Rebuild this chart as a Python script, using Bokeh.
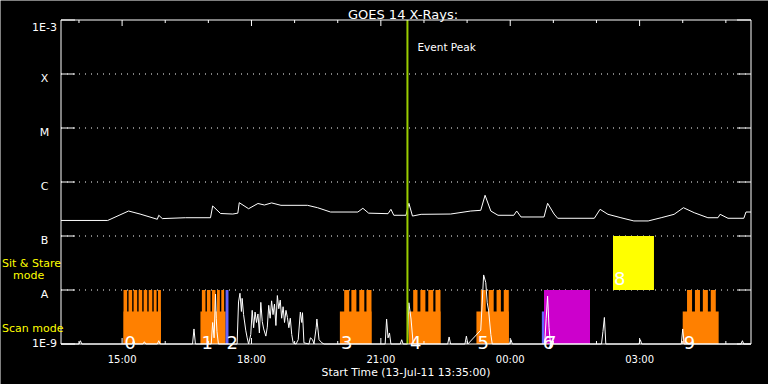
import math
from bokeh.plotting import figure
from bokeh.models import Range1d, ColumnDataSource
from bokeh.core.properties import value
from bokeh.embed import file_html
from bokeh.resources import INLINE

# ---------------- data ----------------
start_time = "13:35"
end_time = "05:35"
event_peak = "21:37"
title_text = "GOES 14 X-Rays:"
xlabel_text = "Start Time (13-Jul-11 13:35:00)"

major_ticks = ["15:00", "18:00", "21:00", "00:00", "03:00"]
minor_ticks = ["14:00", "16:00", "17:00", "19:00", "20:00", "22:00", "23:00",
               "01:00", "02:00", "04:00", "05:00"]

flux_ticks = [1e-9, 1e-8, 1e-7, 1e-6, 1e-5, 1e-4, 1e-3]
flux_labels = ["1E-9", "A", "B", "C", "M", "X", "1E-3"]
grid_flux = [1e-8, 1e-7, 1e-6, 1e-5, 1e-4]

mode_text = ["Sit & Stare", "mode", "Scan mode"]
mode_flux = [3.1e-8, 1.86e-8, 1.91e-9]

# GOES long channel (1-8 A)
long_t = ["13:35", "14:40", "15:09", "15:25", "15:49", "15:51", "15:56", "16:28", "17:03",
          "17:06", "17:17", "17:34", "17:41", "17:43", "17:56", "18:09", "18:18", "18:28",
          "18:41", "19:18", "19:32", "19:50", "20:28", "20:35", "20:43", "21:10", "21:14",
          "21:18", "21:35", "21:39", "21:44", "21:56", "22:37", "23:05", "23:19", "23:25",
          "23:33", "23:43", "00:05", "00:09", "00:15", "00:47", "00:52", "01:01", "01:06",
          "01:57", "02:05", "02:16", "02:34", "02:52", "03:12", "03:30", "03:48", "04:01",
          "04:16", "04:35", "04:49", "04:52", "05:03", "05:25", "05:28", "05:35"]
long_f = [1.94e-7, 1.94e-7, 2.9e-7, 2.55e-7, 2.04e-7, 2.42e-7, 2.1e-7, 2.18e-7, 2.18e-7,
          3.6e-7, 2.61e-7, 2.55e-7, 2.65e-7, 4.14e-7, 3.2e-7, 4.0e-7, 3.75e-7, 4.1e-7,
          3.7e-7, 3.7e-7, 3.34e-7, 2.78e-7, 2.78e-7, 3.26e-7, 2.65e-7, 2.59e-7, 3.12e-7,
          2.42e-7, 2.42e-7, 4.04e-7, 2.34e-7, 2.52e-7, 2.55e-7, 2.9e-7, 2.99e-7, 5.68e-7,
          2.9e-7, 2.42e-7, 2.42e-7, 2.9e-7, 2.25e-7, 2.25e-7, 4.04e-7, 2.55e-7, 2.13e-7,
          2.13e-7, 3.12e-7, 2.52e-7, 2.18e-7, 1.9e-7, 1.9e-7, 2.18e-7, 2.52e-7, 3.34e-7,
          2.7e-7, 2.18e-7, 2.18e-7, 2.52e-7, 2.13e-7, 2.13e-7, 2.78e-7, 2.78e-7]

# GOES short channel (0.5-4 A)
short_t = ["13:35", "14:00", "14:02", "14:04", "15:14", "15:16", "15:18", "15:29", "15:31",
           "15:33", "15:49", "15:51", "15:53", "16:38", "16:40", "16:42", "17:04", "17:06",
           "17:08", "17:10", "17:11", "17:12", "17:14",
           "17:40", "17:42", "17:44", "17:46", "17:47", "17:49", "17:52", "17:54", "17:56",
           "17:59", "18:01", "18:03", "18:05", "18:07", "18:09", "18:11", "18:13", "18:15",
           "18:17", "18:20", "18:22", "18:24", "18:26", "18:28", "18:30", "18:32", "18:34",
           "18:36", "18:38", "18:40", "18:42", "18:44", "18:46", "18:48", "18:50", "18:52",
           "18:54", "18:56", "18:58", "19:02", "19:05", "19:08", "19:10", "19:11", "19:13",
           "19:20", "19:22", "19:25", "19:27", "19:30", "19:31", "19:34", "19:38", "19:41",
           "21:06", "21:08", "21:10",
           "21:12", "21:14", "21:27", "21:29", "21:31", "21:37", "21:39", "21:42", "21:45",
           "22:33", "22:35", "22:37", "22:57", "22:59", "23:01", "23:19", "23:23", "23:26",
           "23:28", "23:30", "23:33", "23:35", "23:59", "00:01", "00:03", "00:48", "00:50",
           "00:52", "00:54", "00:56", "02:07", "02:09", "02:11", "02:13", "02:59", "03:01",
           "03:03", "03:58", "04:00", "04:02", "05:21", "05:23", "05:25", "05:35"]
short_f = [1e-9, 1e-9, 1.15e-9, 1e-9, 1e-9, 1.15e-9, 1e-9, 1e-9, 1.1e-9,
           1e-9, 1e-9, 1.15e-9, 1e-9, 1e-9, 1.9e-9, 1e-9, 1e-9, 2.5e-9,
           1.3e-9, 8.4e-9, 3e-9, 1.7e-9, 1e-9,
           1e-9, 6e-9, 8.7e-9, 4e-9, 7e-9, 3.5e-9, 1.8e-9, 1.3e-9, 1e-9,
           1.5e-9, 4.2e-9, 2e-9, 3.9e-9, 2.5e-9, 3.6e-9, 1.6e-9, 5.9e-9, 2.6e-9,
           1.9e-9, 1.4e-9, 2.05e-9, 5.2e-9, 3e-9, 6.3e-9, 3.5e-9, 5.5e-9, 2.2e-9,
           7.9e-9, 4.5e-9, 6.5e-9, 3e-9, 4.9e-9, 2.5e-9, 4.2e-9, 3.1e-9, 2e-9,
           3e-9, 1.5e-9, 1.05e-9, 1e-9, 1.2e-9, 3.9e-9, 2.5e-9, 3.8e-9, 1.05e-9,
           1e-9, 1.3e-9, 1.2e-9, 1e-9, 2e-9, 2.9e-9, 1.2e-9, 1.05e-9, 1e-9,
           1e-9, 2.9e-9, 1.3e-9,
           1.6e-9, 1e-9, 1e-9, 1.2e-9, 1e-9, 1e-9, 5.8e-9, 2.9e-9, 1e-9,
           1e-9, 1.35e-9, 1e-9, 1e-9, 1.4e-9, 1e-9, 1.8e-9, 1.9e-8, 1.37e-8,
           5.8e-9, 4.1e-9, 1.5e-9, 1e-9, 1e-9, 1.2e-9, 1e-9, 1e-9, 3e-9,
           7.7e-9, 2e-9, 1e-9, 1e-9, 1.7e-9, 3.1e-9, 1e-9, 1e-9, 1.2e-9,
           1e-9, 1e-9, 1.9e-9, 1e-9, 1e-9, 1.15e-9, 1e-9, 1e-9]

# observations
obs_id = ["0", "1", "2", "3", "4", "5", "6", "7", "8", "9"]
obs_start = ["15:02", "16:49", "17:24", "20:03", "21:39", "23:13", "00:44", "00:47", "02:23", "04:00"]
obs_end = ["15:54", "17:24", "17:28", "20:47", "22:23", "23:58", "00:47", "01:51", "03:20", "04:50"]
obs_low = [1e-9, 1e-9, 1e-9, 1e-9, 1e-9, 1e-9, 1e-9, 1e-9, 1e-8, 1e-9]
obs_high = [4e-9, 4e-9, 1e-8, 4e-9, 4e-9, 4e-9, 4e-9, 1e-8, 1e-7, 4e-9]
obs_color = ["#ff8000", "#ff8000", "#6464ff", "#ff8000", "#ff8000", "#ff8000",
             "#6464ff", "#cc00cc", "#ffff00", "#ff8000"]
obs_label_flux = [1.08e-9, 1.08e-9, 1.08e-9, 1.08e-9, 1.08e-9, 1.08e-9, 1.08e-9, 1.08e-9,
                  1.61e-8, 1.08e-9]

# individual rasters of the scan-mode observations
raster_start = ["15:02", "15:09", "15:16", "15:23", "15:30", "15:37", "15:44", "15:50",
                "16:51", "16:58", "17:05", "17:12", "17:18",
                "20:09", "20:19", "20:30", "20:40",
                "21:45", "21:55", "22:06", "22:16",
                "23:19", "23:30", "23:41", "23:51",
                "04:06", "04:17", "04:28", "04:39"]
raster_end = ["15:07", "15:14", "15:21", "15:28", "15:35", "15:42", "15:48", "15:54",
              "16:56", "17:03", "17:10", "17:16", "17:22",
              "20:16", "20:26", "20:37", "20:47",
              "21:51", "22:02", "22:13", "22:23",
              "23:26", "23:37", "23:47", "23:58",
              "04:13", "04:24", "04:35", "04:46"]
raster_low = 1e-9
raster_high = 1e-8


def hrs(s):
    h, m = map(int, s.split(":"))
    t = h + m / 60.0
    return t + 24 if h < 12 else t


FONT = "DejaVu Sans"
WHITE = "white"
W, H = 768, 384
# plot-box margins in pixels (left, right, top, bottom)
ML, MR, MT, MB = 60.5, 17.5, 19.5, 40.5

x0, x1 = hrs(start_time), hrs(end_time)
lg0, lg1 = math.log10(flux_ticks[0]), math.log10(flux_ticks[-1])
pph = (W - ML - MR) / (x1 - x0)
ppd = (H - MT - MB) / (lg1 - lg0)

p = figure(width=W, height=H, output_backend="svg", toolbar_location=None,
           x_range=Range1d(x0 - ML / pph, x1 + MR / pph),
           y_range=Range1d(10 ** (lg0 - MB / ppd), 10 ** (lg1 + MT / ppd)),
           y_axis_type="log", x_axis_location=None, y_axis_location=None,
           min_border=0, min_border_left=0, min_border_right=0,
           min_border_top=0, min_border_bottom=0)
p.background_fill_color = "black"
p.border_fill_color = "black"
p.outline_line_color = None
for g in p.grid:
    g.visible = False

# dotted class lines
p.segment(x0=[x0] * len(grid_flux), y0=grid_flux, x1=[x1] * len(grid_flux), y1=grid_flux,
          line_color=WHITE, line_width=1, line_dash="1 5")

# observation boxes
obs_src = ColumnDataSource(dict(
    left=[hrs(t) for t in obs_start], right=[hrs(t) for t in obs_end],
    bottom=obs_low, top=obs_high, color=obs_color, label=obs_id, ly=obs_label_flux))
ras_src = ColumnDataSource(dict(
    left=[hrs(t) for t in raster_start], right=[hrs(t) for t in raster_end],
    bottom=[raster_low] * len(raster_start), top=[raster_high] * len(raster_start)))
p.quad(left="left", right="right", bottom="bottom", top="top", source=ras_src,
       fill_color="#ff8000", line_color=None)
p.quad(left="left", right="right", bottom="bottom", top="top", source=obs_src,
       fill_color="color", line_color=None)

# flux curves
p.line([hrs(t) for t in long_t], long_f, line_color=WHITE, line_width=1)
p.line([hrs(t) for t in short_t], short_f, line_color=WHITE, line_width=1)

# observation numbers
p.text(x="left", y="ly", text="label", source=obs_src, text_color=WHITE,
       text_font=value(FONT), text_font_size="18px", text_align="left",
       text_baseline="alphabetic", x_offset=1)

# event peak line + text
ev = hrs(event_peak)
p.segment(x0=[ev], y0=[flux_ticks[0]], x1=[ev], y1=[flux_ticks[-1]],
          line_color="#9acd00", line_width=2)
p.text(x=[ev], y=[flux_ticks[-1]], text=["Event Peak"], x_offset=10, y_offset=27,
       text_color=WHITE, text_font=value(FONT), text_font_size="10.5px",
       text_baseline="alphabetic", text_align="left")

# plot box
p.quad(left=[x0], right=[x1], bottom=[flux_ticks[0]], top=[flux_ticks[-1]],
       fill_color=None, line_color=WHITE, line_width=1)

# ticks: left/right major (decades), bottom/top hours
n = len(flux_ticks)
p.ray(x=[x0] * n, y=flux_ticks, length=14, length_units="screen", angle=0,
      line_color=WHITE, line_width=1)
p.ray(x=[x1] * n, y=flux_ticks, length=14, length_units="screen", angle=math.pi,
      line_color=WHITE, line_width=1)
mx = [hrs(t) for t in major_ticks]
nx = [hrs(t) for t in minor_ticks]
for yy, ang in ((flux_ticks[0], math.pi / 2), (flux_ticks[-1], -math.pi / 2)):
    p.ray(x=mx, y=[yy] * len(mx), length=6, length_units="screen", angle=ang,
          line_color=WHITE, line_width=1)
    p.ray(x=nx, y=[yy] * len(nx), length=3, length_units="screen", angle=ang,
          line_color=WHITE, line_width=1)

# x tick labels and axis title
p.text(x=mx, y=[flux_ticks[0]] * len(mx), text=major_ticks, y_offset=15.5,
       text_color=WHITE, text_font=value(FONT), text_font_size="10px",
       text_align="center", text_baseline="alphabetic")
p.text(x=[(x0 + x1) / 2], y=[flux_ticks[0]], text=[xlabel_text], y_offset=28.5,
       text_color=WHITE, text_font=value(FONT), text_font_size="10.8px",
       text_align="center", text_baseline="alphabetic")

# y (class) labels, centred left of the box
dy = [-0.5] + [4] * (n - 2) + [7.2]
for f, lab, d in zip(flux_ticks, flux_labels, dy):
    p.text(x=[x0], y=[f], text=[lab], x_offset=-16.5, y_offset=d,
           text_color=WHITE, text_font=value(FONT), text_font_size="11px",
           text_align="center", text_baseline="alphabetic")

# mode labels
for txt, f, xo in zip(mode_text, mode_flux, (-59, -48, -59)):
    p.text(x=[x0], y=[f], text=[txt], x_offset=xo,
           text_color="#ffff00", text_font=value(FONT), text_font_size="11px",
           text_align="left", text_baseline="alphabetic")

# title
p.text(x=[(x0 + x1) / 2], y=[flux_ticks[-1]], text=[title_text], x_offset=-3, y_offset=-5.5,
       text_color=WHITE, text_font=value(FONT), text_font_size="13px",
       text_align="center", text_baseline="alphabetic")

open("out.html", "w").write(file_html(p, INLINE))
